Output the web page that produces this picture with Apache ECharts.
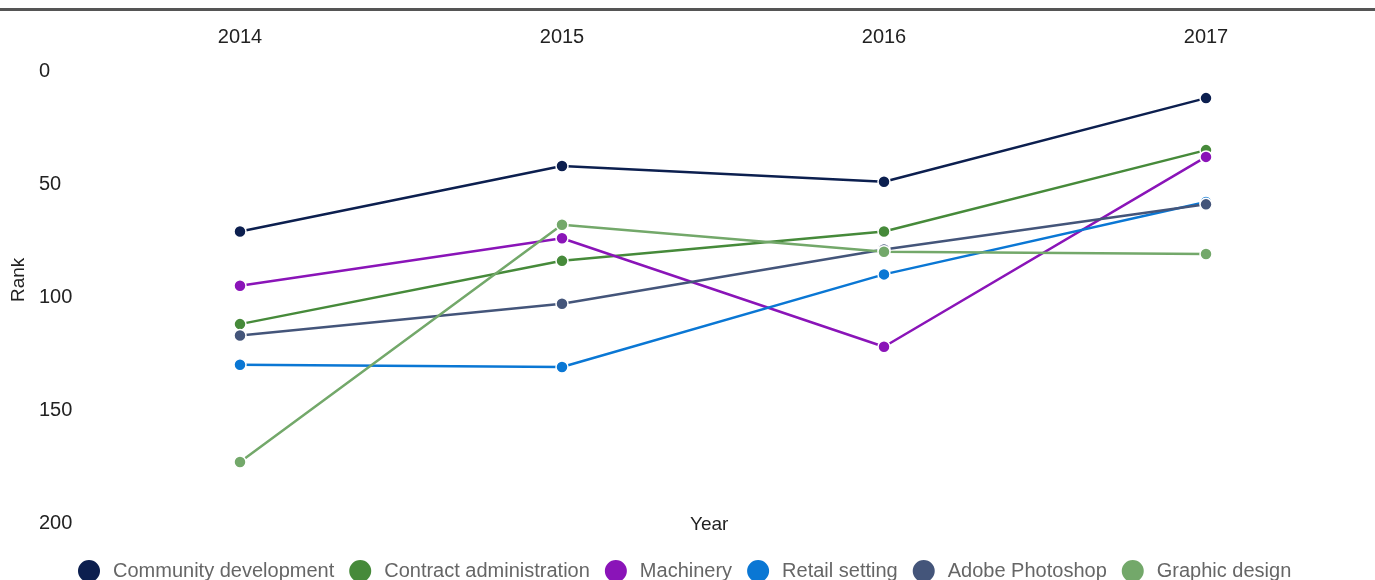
<!DOCTYPE html>
<html>
<head>
<meta charset="utf-8">
<script src="https://cdn.jsdelivr.net/npm/echarts@6/dist/echarts.min.js"></script>
<style>html,body{margin:0;padding:0;background:#fff}#c{width:1375px;height:580px}</style>
</head>
<body>
<div id="c"></div>
<script>
const years = ['2014', '2015', '2016', '2017'];
const yTicks = [0, 50, 100, 150, 200];
const seriesNames = ['Community development', 'Contract administration', 'Machinery', 'Retail setting', 'Adobe Photoshop', 'Graphic design'];
const communityDevelopment = [71, 42, 49, 12];
const contractAdministration = [112, 84, 71, 35];
const machinery = [95, 74, 122, 38];
const retailSetting = [130, 131, 90, 58];
const adobePhotoshop = [117, 103, 79, 59];
const graphicDesign = [173, 68, 80, 81];
const seriesValues = [communityDevelopment, contractAdministration, machinery, retailSetting, adobePhotoshop, graphicDesign];
const colors = ['#0c1f4f', '#468a3a', '#8a14b8', '#0a77d4', '#44557a', '#73a86a'];
const font = 'Liberation Sans, Arial, sans-serif';

const chart = echarts.init(document.getElementById('c'), null, {renderer: 'canvas'});
chart.setOption({
  animation: false,
  color: colors,
  grid: {left: 79, right: 8, top: 71, bottom: 57, containLabel: false},
  xAxis: {
    type: 'category', data: years, position: 'top', boundaryGap: true,
    axisLine: {show: false}, axisTick: {show: false}, splitLine: {show: false},
    axisLabel: {fontSize: 20, color: '#222', fontFamily: font, margin: 24}
  },
  yAxis: {
    type: 'value', inverse: true, min: yTicks[0], max: yTicks[yTicks.length - 1], interval: 50,
    axisLine: {show: false}, axisTick: {show: false}, splitLine: {show: false},
    axisLabel: {fontSize: 20, color: '#222', fontFamily: font, align: 'left', margin: 40}
  },
  legend: {
    left: 71, top: 553, icon: 'circle', itemWidth: 24, itemHeight: 24, itemGap: 13,
    textStyle: {fontSize: 20, color: '#666', fontFamily: font, padding: [0, 0, 0, 7]},
    data: seriesNames
  },
  graphic: [
    {type: 'rect', left: 0, top: 8, shape: {width: 1375, height: 3}, style: {fill: '#555'}},
    {type: 'text', left: 690, top: 515, style: {text: 'Year', fontSize: 19, fill: '#222', fontFamily: font}},
    {type: 'text', x: 9, y: 302, rotation: Math.PI / 2, style: {text: 'Rank', fontSize: 19, fill: '#222', fontFamily: font}}
  ],
  series: seriesNames.map((n, i) => ({
    name: n, type: 'line', data: seriesValues[i],
    symbol: 'circle', symbolSize: 12,
    lineStyle: {width: 2.5, color: colors[i]},
    itemStyle: {color: colors[i], borderColor: '#fff', borderWidth: 1.5},
    emphasis: {disabled: true}
  }))
});
</script>
</body>
</html>
